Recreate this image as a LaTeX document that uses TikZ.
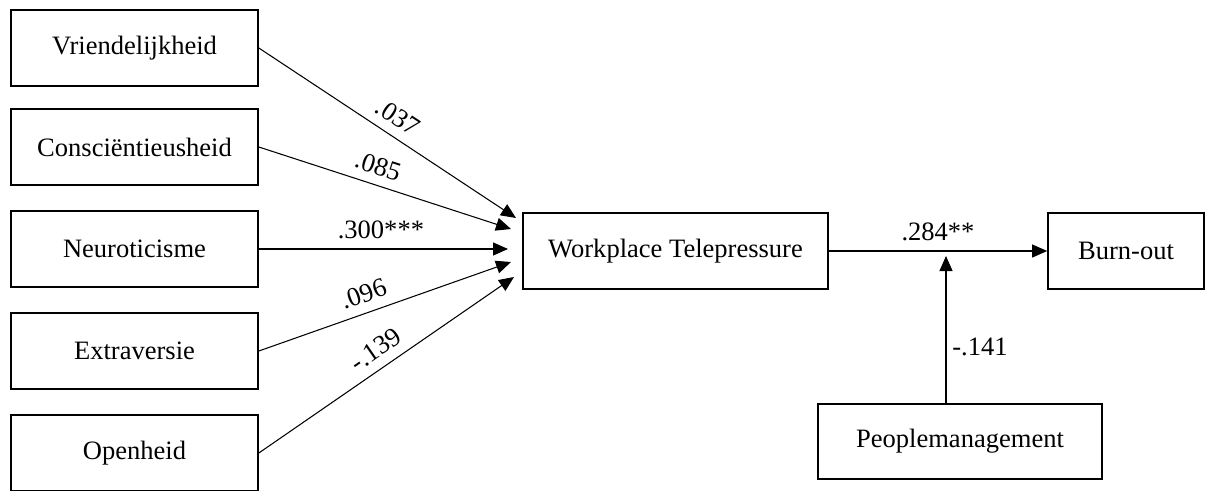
\documentclass[tikz,border=0pt]{standalone}
\usepackage{fontspec}
\setmainfont{Liberation Serif}
\usepackage{tikz}
\usetikzlibrary{arrows.meta,positioning}

\begin{document}
\begin{tikzpicture}[
  every node/.style={font=\fontsize{15.1}{17}\selectfont},
  var/.style={draw, line width=0.95pt, minimum width=4.94cm,
              minimum height=1.52cm, align=center},
  arrow/.style={-{Triangle[length=0.3cm, width=0.26cm]}, line width=0.6pt},
  coef/.style={sloped, above=2pt},
]
\useasboundingbox (0,0) rectangle (24.24,9.8);

%% Personality boxes
\node[var] (vri) at (2.69, 8.84) {Vriendelijkheid};
\node[var] (con) at (2.69, 6.86) {Consciëntieusheid};
\node[var] (neu) at (2.69, 4.82) {Neuroticisme};
\node[var] (ext) at (2.69, 2.78) {Extraversie};
\node[var] (ope) at (2.69, 0.74) {Openheid};

%% Mediator, outcome and moderator
\node[var, minimum width=6.1cm] (wpt) at (13.51, 4.78) {Workplace Telepressure};
\node[var, minimum width=3.12cm] (bur) at (22.52, 4.78) {Burn-out};
\node[var, minimum width=5.68cm, minimum height=1.5cm] (pm) at (19.2, 0.97)
  {Peoplemanagement};

%% Arrow tips in front of the mediator
\coordinate (t1) at (10.32, 5.44);
\coordinate (t2) at (10.22, 5.22);
\coordinate (t3) at (10.16, 4.82);
\coordinate (t4) at (10.22, 4.56);
\coordinate (t5) at (10.28, 4.26);
\coordinate (mod) at (18.92, 4.68);

%% Paths to telepressure
\foreach \s/\t/\c/\p in {vri/t1/.037/0.5, con/t2/.085/0.45, neu/t3/.300***/0.49,
                         ext/t4/.096/0.44, ope/t5/-.139/0.5} {
  \draw[arrow] (\s.east) -- node[coef, pos=\p] {\c} (\t);
}

%% Telepressure to burn-out
\draw[arrow] (wpt.east) -- node[above=2pt, pos=0.5] {.284**} (bur.west);

%% Moderation
\draw[arrow] (pm.north -| mod) -- node[right, pos=0.38] {-.141} (mod);

\end{tikzpicture}
\end{document}
